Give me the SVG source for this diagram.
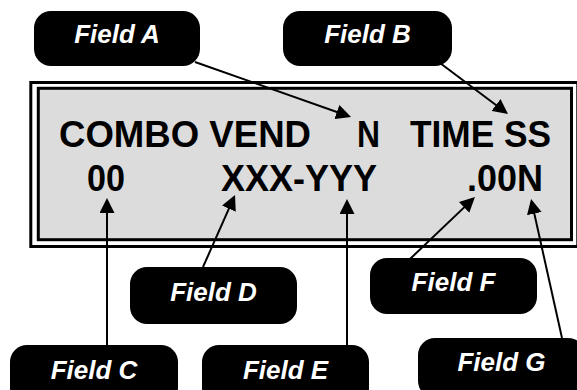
<svg xmlns="http://www.w3.org/2000/svg" width="577" height="390" viewBox="0 0 577 390">
<style>
.box{fill:#000;}
.lbl{fill:#fff;font-family:"Liberation Sans",Arial,sans-serif;font-weight:bold;font-style:italic;font-size:26px;text-anchor:middle;}
.lcd{fill:#000;font-family:"Liberation Sans",Arial,sans-serif;font-weight:bold;font-size:36.5px;}
.conn line{stroke:#000;stroke-width:2;marker-end:url(#ah);}
</style>
<defs>
<marker id="ah" markerUnits="userSpaceOnUse" markerWidth="15" markerHeight="15" refX="12" refY="7.5" orient="auto">
<path d="M0,0 L15,7.5 L0,15 z" fill="#000"/>
</marker>
</defs>
<rect width="577" height="390" fill="#fff"/>
<g id="display">
<rect x="30.8" y="82.5" width="547" height="164" fill="#fff" stroke="#000" stroke-width="3"/>
<rect x="38.3" y="88.3" width="533.2" height="151.4" fill="#dcdcdc" stroke="#000" stroke-width="3"/>
<text class="lcd" x="59" y="146.5" textLength="252" lengthAdjust="spacingAndGlyphs">COMBO VEND</text>
<text class="lcd" x="357" y="146.5" textLength="23" lengthAdjust="spacingAndGlyphs">N</text>
<text class="lcd" x="410" y="146.5" textLength="141" lengthAdjust="spacingAndGlyphs">TIME SS</text>
<text class="lcd" x="87" y="190.5" textLength="38" lengthAdjust="spacingAndGlyphs">00</text>
<text class="lcd" x="221" y="190.5" textLength="156" lengthAdjust="spacingAndGlyphs">XXX-YYY</text>
<text class="lcd" x="467" y="190.5" textLength="76" lengthAdjust="spacingAndGlyphs">.00N</text>
</g>
<g class="conn" id="connectors">
<line x1="195" y1="62" x2="348.2" y2="116"/>
<line x1="440" y1="63" x2="505.6" y2="112.2"/>
<line x1="107" y1="345" x2="107" y2="201"/>
<line x1="203" y1="267" x2="233.8" y2="197.7"/>
<line x1="347" y1="345" x2="347" y2="202"/>
<line x1="410" y1="259" x2="472.8" y2="199.1"/>
<line x1="562" y1="338" x2="531.7" y2="201.9"/>
</g>
<g id="fieldA"><rect class="box" x="34" y="11" width="166" height="55" rx="17"/><text class="lbl" x="117" y="43">Field A</text></g>
<g id="fieldB"><rect class="box" x="283" y="11" width="169" height="55" rx="17"/><text class="lbl" x="367.5" y="43">Field B</text></g>
<g id="fieldD"><rect class="box" x="130" y="267" width="167" height="57" rx="17"/><text class="lbl" x="213.5" y="301">Field D</text></g>
<g id="fieldF"><rect class="box" x="370" y="258" width="167" height="56" rx="17"/><text class="lbl" x="453.5" y="291">Field F</text></g>
<g id="fieldC"><rect class="box" x="10" y="345" width="168" height="60" rx="17"/><text class="lbl" x="94" y="379">Field C</text></g>
<g id="fieldE"><rect class="box" x="202" y="345" width="167" height="60" rx="17"/><text class="lbl" x="285.5" y="379">Field E</text></g>
<g id="fieldG"><rect class="box" x="418" y="338" width="167" height="60" rx="17"/><text class="lbl" x="501.5" y="371">Field G</text></g>
</svg>
